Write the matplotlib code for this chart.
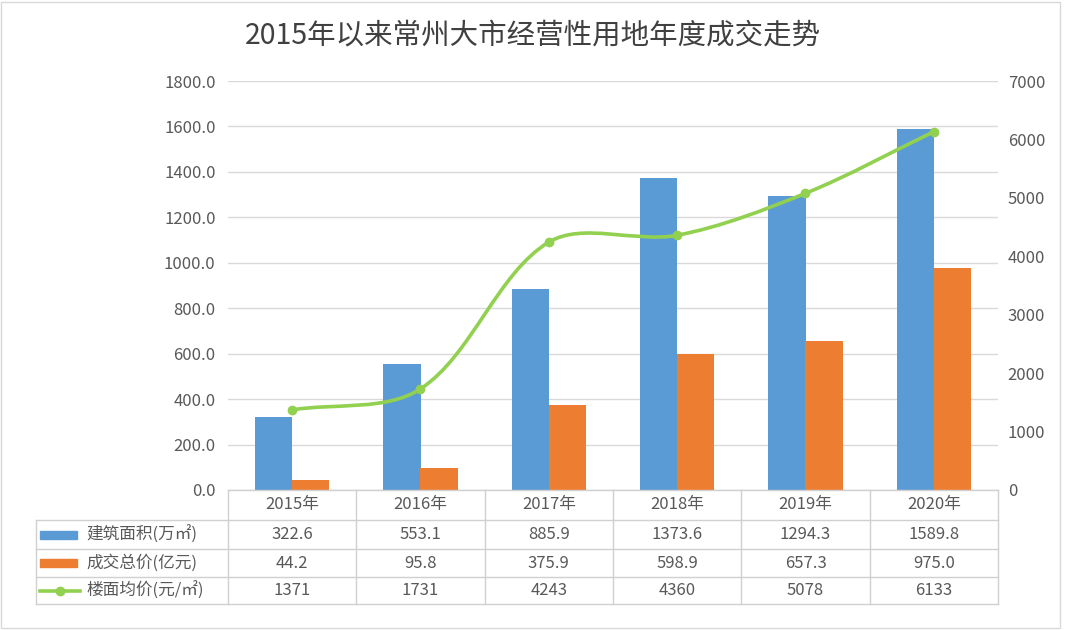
import numpy as np
import matplotlib.pyplot as plt
from matplotlib.path import Path
from matplotlib.patches import PathPatch, Rectangle

plt.rcParams['font.family'] = ['Noto Sans CJK SC', 'DejaVu Sans']

years = ['2015年', '2016年', '2017年', '2018年', '2019年', '2020年']
area = [322.6, 553.1, 885.9, 1373.6, 1294.3, 1589.8]       # 建筑面积(万㎡)
total = [44.2, 95.8, 375.9, 598.9, 657.3, 975.0]           # 成交总价(亿元)
price = [1371, 1731, 4243, 4360, 5078, 6133]               # 楼面均价(元/㎡)
area_lbl = ['322.6', '553.1', '885.9', '1373.6', '1294.3', '1589.8']
total_lbl = ['44.2', '95.8', '375.9', '598.9', '657.3', '975.0']
price_lbl = ['1371', '1731', '4243', '4360', '5078', '6133']
series_names = ['建筑面积(万㎡)', '成交总价(亿元)', '楼面均价(元/㎡)']

blue = '#5B9BD5'
orange = '#ED7D31'
green = '#92D050'
txt = '#595959'
gridc = '#D9D9D9'

W, H = 1065, 630
fig = plt.figure(figsize=(W / 100, H / 100), dpi=100)

# main plot area in pixels
px0, px1, py0, py1 = 228, 998, 81, 490
ax = fig.add_axes([px0 / W, 1 - py1 / H, (px1 - px0) / W, (py1 - py0) / H])
x = np.arange(len(years))
bw = 0.29
ax.bar(x - bw / 2, area, bw, color=blue, zorder=3)
ax.bar(x + bw / 2, total, bw, color=orange, zorder=3)
ax.set_xlim(-0.5, len(years) - 0.5)
ax.set_ylim(0, 1800)
ax.set_yticks(np.arange(0, 1801, 200))
ax.set_yticklabels([f'{v:.1f}' for v in np.arange(0, 1801, 200)])
ax.set_xticks([])
ax.grid(axis='y', color=gridc, linewidth=1, zorder=0)
for s in ax.spines.values():
    s.set_visible(False)
ax.tick_params(axis='y', length=0, labelsize=12, labelcolor=txt, pad=9)

ax2 = ax.twinx()
ax2.set_ylim(0, 7000)
ax2.set_yticks(np.arange(0, 7001, 1000))
for s in ax2.spines.values():
    s.set_visible(False)
ax2.tick_params(axis='y', length=0, labelsize=12, labelcolor=txt, pad=7)

# smoothed line, Excel-like bezier (distance weighted, in screen space)
pts = ax2.transData.transform(np.column_stack([x, price]))
n = len(pts)
verts = [pts[0]]
codes = [Path.MOVETO]
for i in range(n - 1):
    p0 = pts[max(i - 1, 0)]
    p1 = pts[i]
    p2 = pts[i + 1]
    p3 = pts[min(i + 2, n - 1)]
    d01 = np.hypot(*(p1 - p0))
    d12 = np.hypot(*(p2 - p1))
    d23 = np.hypot(*(p3 - p2))
    c1 = p1 + (p2 - p0) * d12 / (d01 + d12) / 3
    c2 = p2 - (p3 - p1) * d12 / (d12 + d23) / 3
    verts += [c1, c2, p2]
    codes += [Path.CURVE4] * 3
verts = ax2.transData.inverted().transform(np.array(verts))
ax2.add_patch(PathPatch(Path(verts, codes), facecolor='none', edgecolor=green,
                        linewidth=2.6, zorder=4, capstyle='round'))
ax2.plot(x, price, 'o', color=green, markersize=6, zorder=5)

fig.text(0.5, 1 - 36 / H, '2015年以来常州大市经营性用地年度成交走势',
         ha='center', va='center', fontsize=20.5, color='#404040')

# data table drawn in pixel coordinates
tb = fig.add_axes([0, 0, 1, 1], zorder=10)
tb.set_xlim(0, W)
tb.set_ylim(H, 0)
tb.axis('off')
tb.patch.set_alpha(0)

col_edges = np.linspace(px0, px1, len(years) + 1)
rows = [490, 520, 549, 577, 604]
tx0 = 36
lc = '#D0D0D0'
tb.plot([px0, px1], [rows[0], rows[0]], color=lc, lw=1)
for r in rows[1:]:
    tb.plot([tx0, px1], [r, r], color=lc, lw=1)
for ce in col_edges:
    tb.plot([ce, ce], [rows[0], rows[-1]], color=lc, lw=1)
tb.plot([tx0, tx0], [rows[1], rows[-1]], color=lc, lw=1)

centers = (col_edges[:-1] + col_edges[1:]) / 2
for cx, yl in zip(centers, years):
    tb.text(cx, (rows[0] + rows[1]) / 2, yl, ha='center', va='center',
            fontsize=12, color=txt)
for ri, vals in enumerate([area_lbl, total_lbl, price_lbl]):
    cy = (rows[ri + 1] + rows[ri + 2]) / 2
    for cx, v in zip(centers, vals):
        tb.text(cx, cy, v, ha='center', va='center', fontsize=12, color=txt)
    tb.text(86, cy, series_names[ri], ha='left', va='center', fontsize=12, color=txt)

ky = [(rows[1] + rows[2]) / 2, (rows[2] + rows[3]) / 2, (rows[3] + rows[4]) / 2]
tb.add_patch(Rectangle((40, ky[0] - 4), 37, 8, color=blue))
tb.add_patch(Rectangle((40, ky[1] - 4), 37, 8, color=orange))
tb.plot([40, 80], [ky[2], ky[2]], color=green, lw=2.6)
tb.plot([60], [ky[2]], 'o', color=green, markersize=6)

# light outer frame
tb.add_patch(Rectangle((1, 2), W - 6, H - 4, fill=False, edgecolor='#D9D9D9', lw=1))

fig.savefig('out.png', dpi=100)
